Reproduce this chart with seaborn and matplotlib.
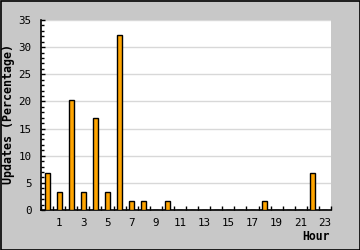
import matplotlib
matplotlib.use("Agg")
import matplotlib.pyplot as plt
from matplotlib.patches import Rectangle
from matplotlib.ticker import MultipleLocator, FixedLocator
import seaborn as sns
import pandas as pd

hours = list(range(24))
values = [6.78, 3.39, 20.34, 3.39, 16.95, 3.39, 32.20, 1.69, 1.69, 0, 1.69, 0,
          0, 0, 0, 0, 0, 0, 1.69, 0, 0, 0, 6.78, 0]
tick_hours = [1, 3, 5, 7, 9, 11, 13, 15, 17, 19, 21, 23]
x_title = "Hour"
y_title = "Updates (Percentage)"

df = pd.DataFrame({"hour": hours, "pct": values})

sns.set_theme(style="white")
plt.rcParams["font.family"] = ["DejaVu Sans Mono", "DejaVu Sans"]

BG = "#c8c8c8"
fig = plt.figure(figsize=(3.6, 2.5), dpi=100, facecolor=BG)
ax = fig.add_axes([41/360, 40/250, 290/360, 190/250])
ax.set_facecolor("white")

sns.barplot(data=df, x="hour", y="pct", order=hours, color="#ffa500",
            width=0.42, edgecolor="black", linewidth=1.0, saturation=1,
            ax=ax, zorder=3)

ax.set_xlim(-0.5, 23.5)
ax.set_ylim(0, 35)

# y axis
ax.yaxis.set_major_locator(MultipleLocator(5))
ax.yaxis.set_minor_locator(MultipleLocator(1))
ax.tick_params(axis="y", which="major", direction="in", length=3, width=1,
               color="black", left=True, labelsize=7.8, pad=7, labelcolor="black")
ax.tick_params(axis="y", which="minor", direction="in", length=2.2, width=1,
               color="black", left=True)
ax.grid(axis="y", which="major", color="#d8d8d8", linewidth=1, zorder=0)
ax.set_axisbelow(True)

# x axis
ax.xaxis.set_major_locator(FixedLocator(tick_hours))
ax.set_xticklabels([str(h) for h in tick_hours])
ax.xaxis.set_minor_locator(FixedLocator([h - 0.5 for h in range(25)]))
ax.tick_params(axis="x", which="major", length=0, labelsize=7.8, pad=6,
               labelcolor="black", bottom=True)
ax.tick_params(axis="x", which="minor", direction="in", length=3, width=1,
               color="black", bottom=True)

for s in ["top", "right"]:
    ax.spines[s].set_visible(False)
for s in ["left", "bottom"]:
    ax.spines[s].set_color("black")
    ax.spines[s].set_linewidth(1.2)

ax.set_xlabel("")
ax.set_ylabel("")
fig.text(330/360, 1 - 236/250, x_title, ha="right", va="center",
         fontsize=8.3, fontweight="bold", color="black")
fig.text(9/360, 1 - 114/250, y_title, ha="center", va="center", rotation=90,
         fontsize=8.4, fontweight="bold", color="black")

fig.patches.append(Rectangle((0.5/360, 0.5/250), 359/360, 249/250,
                             transform=fig.transFigure, fill=False,
                             edgecolor="black", linewidth=1.2))

fig.savefig("out.png", dpi=100, facecolor=BG)
